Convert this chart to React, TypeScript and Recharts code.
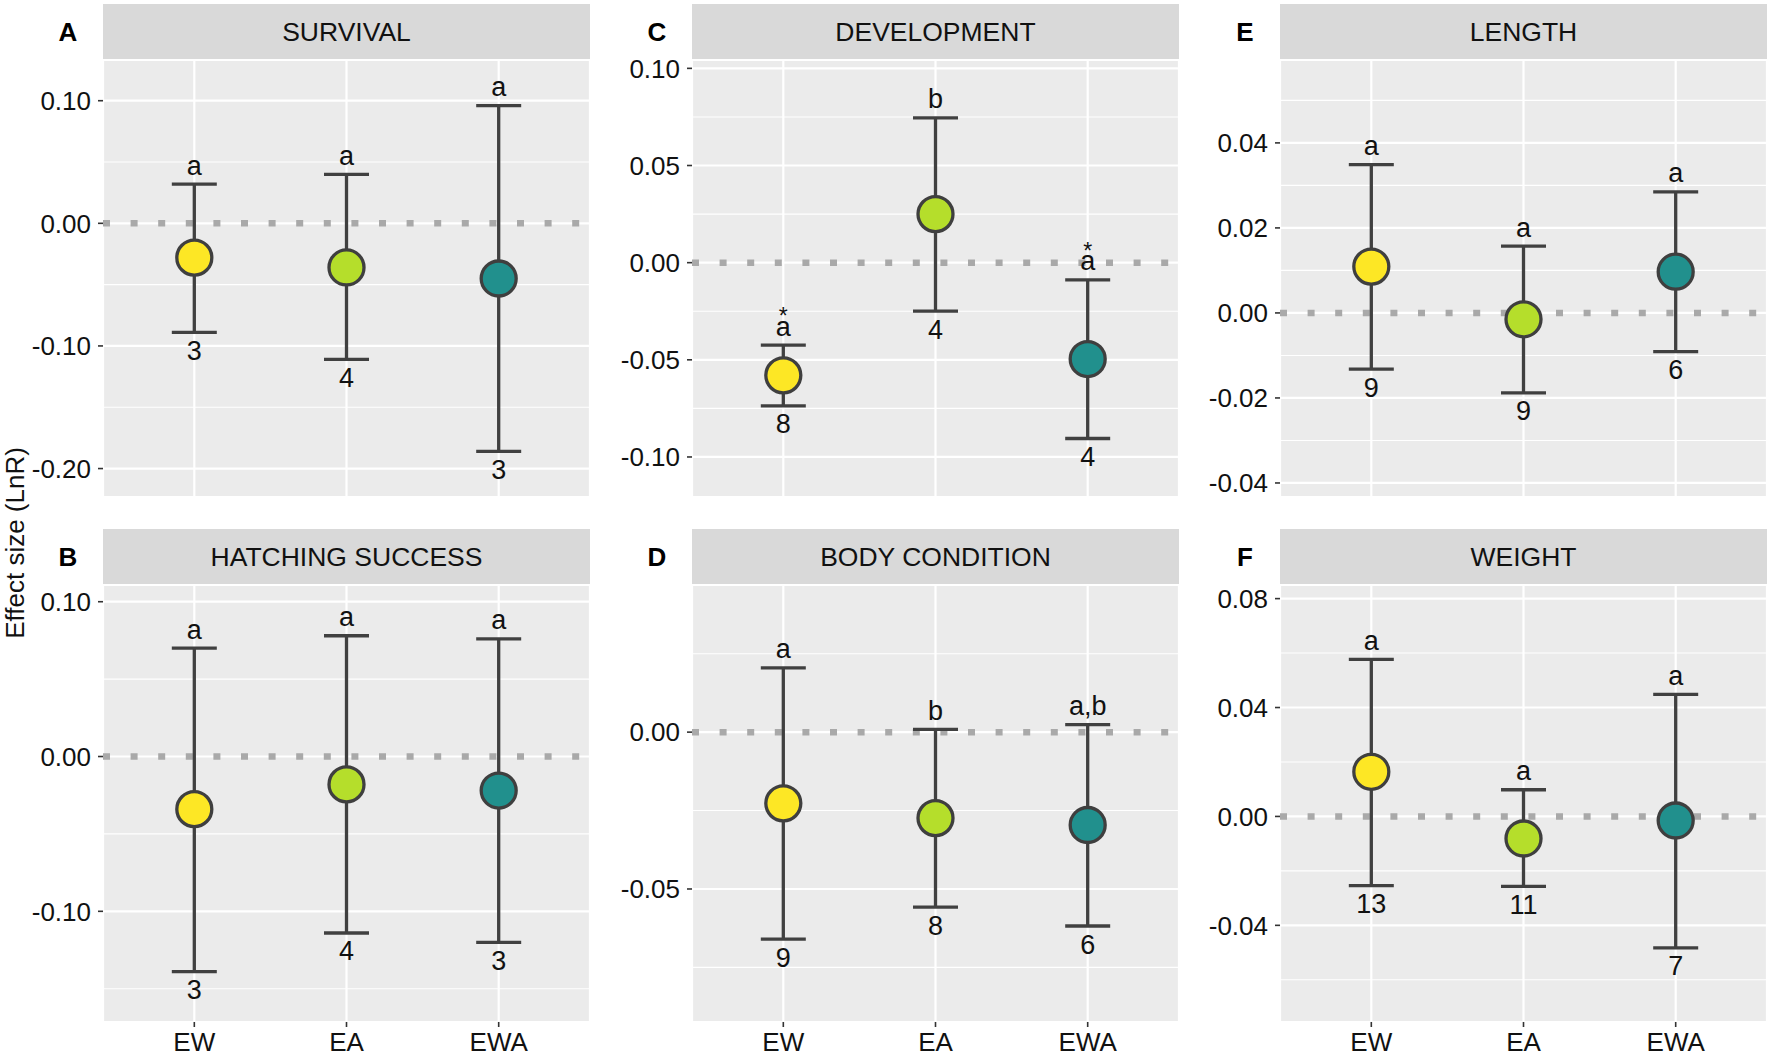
import React from 'react';
import { ComposedChart, Scatter, ErrorBar, XAxis, YAxis, CartesianGrid, ReferenceLine } from 'recharts';

const groups = ['EW', 'EA', 'EWA'];
const groupColors = ['#FDE725', '#B5DE2B', '#21908D'];

// A - survival
const survivalMean = [-0.028, -0.036, -0.045];
const survivalLow = [-0.089, -0.111, -0.186];
const survivalHigh = [0.032, 0.040, 0.096];
const survivalN = [3, 4, 3];
const survivalLetters = ['a', 'a', 'a'];
const survivalTicks = [-0.2, -0.1, 0, 0.1];
const survivalMinor = [-0.15, -0.05, 0.05];

// B - hatching success
const hatchingMean = [-0.034, -0.018, -0.022];
const hatchingLow = [-0.139, -0.114, -0.12];
const hatchingHigh = [0.070, 0.078, 0.076];
const hatchingN = [3, 4, 3];
const hatchingLetters = ['a', 'a', 'a'];
const hatchingTicks = [-0.1, 0, 0.1];
const hatchingMinor = [-0.15, -0.05, 0.05];

// C - development
const developmentMean = [-0.058, 0.025, -0.0496];
const developmentLow = [-0.0737, -0.0249, -0.0905];
const developmentHigh = [-0.0424, 0.0745, -0.0089];
const developmentN = [8, 4, 4];
const developmentLetters = ['a', 'b', 'a'];
const developmentStars = ['*', '', '*'];
const developmentTicks = [-0.1, -0.05, 0, 0.05, 0.1];
const developmentMinor = [-0.075, -0.025, 0.025, 0.075];

// D - body condition
const bodyMean = [-0.0227, -0.0274, -0.0296];
const bodyLow = [-0.066, -0.0558, -0.0618];
const bodyHigh = [0.0205, 0.0009, 0.0024];
const bodyN = [9, 8, 6];
const bodyLetters = ['a', 'b', 'a,b'];
const bodyTicks = [-0.05, 0];
const bodyMinor = [-0.075, -0.025, 0.025];

// E - length
const lengthMean = [0.0109, -0.0015, 0.0097];
const lengthLow = [-0.0132, -0.0188, -0.0091];
const lengthHigh = [0.0349, 0.0157, 0.0285];
const lengthN = [9, 9, 6];
const lengthLetters = ['a', 'a', 'a'];
const lengthTicks = [-0.04, -0.02, 0, 0.02, 0.04];
const lengthMinor = [-0.03, -0.01, 0.01, 0.03, 0.05];

// F - weight
const weightMean = [0.0164, -0.0081, -0.0015];
const weightLow = [-0.0254, -0.0257, -0.0483];
const weightHigh = [0.0577, 0.0098, 0.0448];
const weightN = [13, 11, 7];
const weightLetters = ['a', 'a', 'a'];
const weightTicks = [-0.04, 0, 0.04, 0.08];
const weightMinor = [-0.06, -0.02, 0.02, 0.06];

const FONT = '"Liberation Sans", Arial, Helvetica, sans-serif';
const PLOT_W = 487;
const PLOT_H = 437;
const STRIP_H = 56;
const AXIS_W = 90;
const PAD = 14; // room above/below the plot so tick text is not clipped
const COL_LEFT = [103, 692, 1280];
const ROW_TOP = [60, 585];

const panels = [
  { tag: 'A', title: 'SURVIVAL', col: 0, row: 0, mean: survivalMean, low: survivalLow, high: survivalHigh, n: survivalN, letters: survivalLetters, stars: null, domain: [-0.2232, 0.1332], ticks: survivalTicks, minor: survivalMinor },
  { tag: 'B', title: 'HATCHING SUCCESS', col: 0, row: 1, mean: hatchingMean, low: hatchingLow, high: hatchingHigh, n: hatchingN, letters: hatchingLetters, stars: null, domain: [-0.1715, 0.1108], ticks: hatchingTicks, minor: hatchingMinor },
  { tag: 'C', title: 'DEVELOPMENT', col: 1, row: 0, mean: developmentMean, low: developmentLow, high: developmentHigh, n: developmentN, letters: developmentLetters, stars: developmentStars, domain: [-0.1206, 0.1043], ticks: developmentTicks, minor: developmentMinor },
  { tag: 'D', title: 'BODY CONDITION', col: 1, row: 1, mean: bodyMean, low: bodyLow, high: bodyHigh, n: bodyN, letters: bodyLetters, stars: null, domain: [-0.0924, 0.0469], ticks: bodyTicks, minor: bodyMinor },
  { tag: 'E', title: 'LENGTH', col: 2, row: 0, mean: lengthMean, low: lengthLow, high: lengthHigh, n: lengthN, letters: lengthLetters, stars: null, domain: [-0.0433, 0.0595], ticks: lengthTicks, minor: lengthMinor },
  { tag: 'F', title: 'WEIGHT', col: 2, row: 1, mean: weightMean, low: weightLow, high: weightHigh, n: weightN, letters: weightLetters, stars: null, domain: [-0.0755, 0.085], ticks: weightTicks, minor: weightMinor },
];

const LetterShape = (props: any) => {
  const { cx, cy, payload } = props;
  return (
    <g>
      {payload.star ? (
        <text x={cx} y={cy - 21} textAnchor="middle" fontSize={23} fill="#111" fontFamily={FONT}>{payload.star}</text>
      ) : null}
      <text x={cx} y={cy - 9.5} textAnchor="middle" fontSize={27} fill="#111" fontFamily={FONT}>{payload.letter}</text>
    </g>
  );
};

const CountShape = (props: any) => {
  const { cx, cy, payload } = props;
  return (
    <text x={cx} y={cy + 27.5} textAnchor="middle" fontSize={27} fill="#111" fontFamily={FONT}>{payload.n}</text>
  );
};

const PointShape = (props: any) => {
  const { cx, cy, payload } = props;
  return <circle cx={cx} cy={cy} r={17.5} fill={payload.color} stroke="#3f3f3f" strokeWidth={3.3} />;
};

function Panel({ p }: any) {
  const left = COL_LEFT[p.col];
  const top = ROW_TOP[p.row];
  const bottom = p.row === 1;
  const rows = groups.map((g, i) => ({
    pos: i + 1,
    group: g,
    mean: p.mean[i],
    low: p.low[i],
    high: p.high[i],
    n: p.n[i],
    letter: p.letters[i],
    star: p.stars ? p.stars[i] : '',
    color: groupColors[i],
    err: [p.mean[i] - p.low[i], p.high[i] - p.mean[i]],
  }));
  const tickStyle = { fontSize: 26, fill: '#111', fontFamily: FONT };

  return (
    <>
      <div
        style={{
          position: 'absolute', left, top: top - STRIP_H, width: PLOT_W, height: STRIP_H,
          background: '#D9D9D9', display: 'flex', alignItems: 'center', justifyContent: 'center',
          fontSize: 26.5, color: '#111', fontFamily: FONT,
        }}
      >
        {p.title}
      </div>
      <div
        style={{
          position: 'absolute', left: left - 60, top: top - STRIP_H, width: 50, height: STRIP_H,
          display: 'flex', alignItems: 'center', justifyContent: 'center',
          fontSize: 26, fontWeight: 'bold', color: '#000', fontFamily: FONT,
        }}
      >
        {p.tag}
      </div>
      <div style={{ position: 'absolute', left: left - AXIS_W, top: top - PAD }}>
        <ComposedChart
          width={AXIS_W + PLOT_W}
          height={PLOT_H + PAD + (bottom ? 42 : PAD)}
          data={rows}
          margin={{ top: PAD, right: 0, bottom: bottom ? 0 : PAD, left: 0 }}
        >
          <CartesianGrid fill="#EBEBEB" stroke="#FFFFFF" strokeWidth={2.2} />
          {p.minor.map((v: number) => (
            <ReferenceLine key={v} y={v} stroke="#FFFFFF" strokeWidth={1.1} />
          ))}
          <ReferenceLine y={0} stroke="#A9A9A9" strokeWidth={6.5} strokeDasharray="7 20.6" />
          <XAxis
            dataKey="pos"
            type="number"
            domain={[0.4, 3.6]}
            ticks={[1, 2, 3]}
            allowDataOverflow
            hide={!bottom}
            height={42}
            axisLine={false}
            tickSize={5}
            tickMargin={6}
            tickLine={{ stroke: '#333', strokeWidth: 1.6 }}
            tick={tickStyle}
            tickFormatter={(v: number) => groups[v - 1]}
            interval={0}
          />
          <YAxis
            type="number"
            domain={p.domain}
            ticks={p.ticks}
            allowDataOverflow
            width={AXIS_W}
            axisLine={false}
            tickSize={5}
            tickMargin={7}
            tickLine={{ stroke: '#333', strokeWidth: 1.6 }}
            tick={tickStyle}
            tickFormatter={(v: number) => v.toFixed(2)}
            interval={0}
          />
          <Scatter dataKey="high" shape={LetterShape} isAnimationActive={false} />
          <Scatter dataKey="low" shape={CountShape} isAnimationActive={false} />
          <Scatter dataKey="mean" shape={PointShape} isAnimationActive={false}>
            <ErrorBar dataKey="err" direction="y" width={22.5} stroke="#404040" strokeWidth={3.3} isAnimationActive={false} />
          </Scatter>
        </ComposedChart>
      </div>
    </>
  );
}

export default function App() {
  return (
    <div style={{ position: 'absolute', left: 0, top: 0, width: 1772, height: 1057, background: '#FFFFFF', fontFamily: FONT }}>
      {panels.map((p) => (
        <Panel key={p.tag} p={p} />
      ))}
      <svg width={40} height={1057} style={{ position: 'absolute', left: 0, top: 0 }}>
        <text x={-543} y={24} transform="rotate(-90)" textAnchor="middle" fontSize={26} fill="#111" fontFamily={FONT}>
          Effect size (LnR)
        </text>
      </svg>
    </div>
  );
}
